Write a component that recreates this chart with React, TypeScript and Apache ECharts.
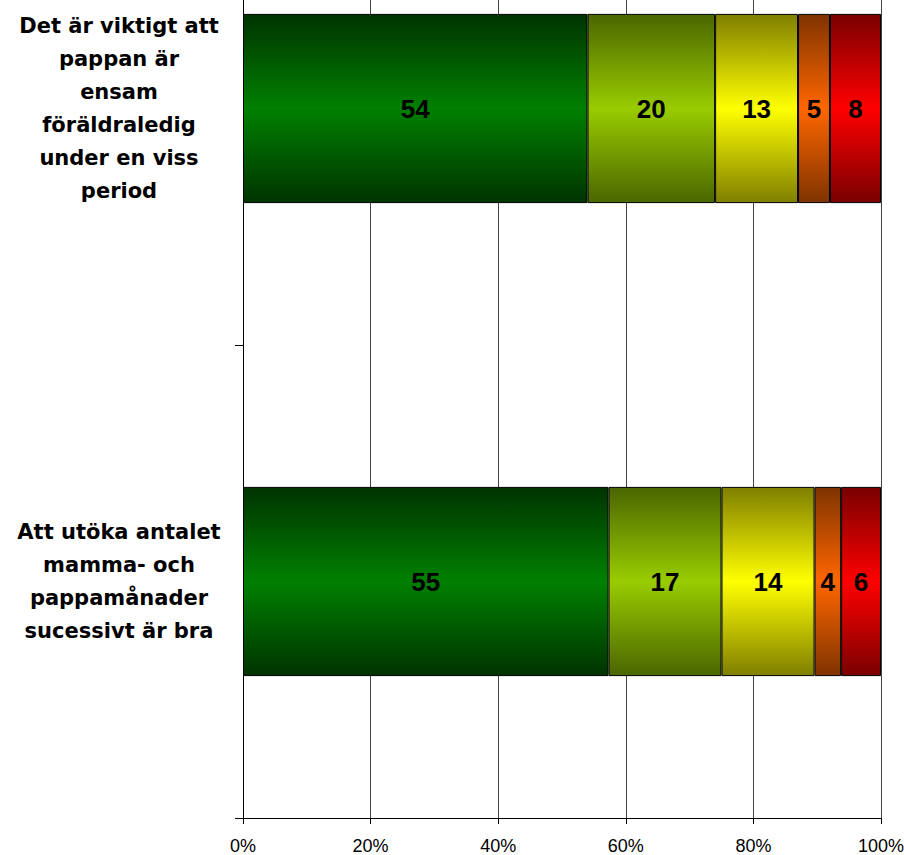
import React, { useEffect, useRef } from "react";
import * as echarts from "echarts";

const categories: string[] = [
  "Det är viktigt att\npappan är\nensam\nföräldraledig\nunder en viss\nperiod",
  "Att utöka antalet\nmamma- och\npappamånader\nsucessivt är bra",
];

const seriesNames: string[] = ["S1", "S2", "S3", "S4", "S5"];
const valuesS1: number[] = [54, 55];
const valuesS2: number[] = [20, 17];
const valuesS3: number[] = [13, 14];
const valuesS4: number[] = [5, 4];
const valuesS5: number[] = [8, 6];
const xTicks: number[] = [0, 20, 40, 60, 80, 100];

const darkColors = ["#003300", "#4a6600", "#7f7f00", "#7f3300", "#7a0000"];
const brightColors = ["#008000", "#99cc00", "#ffff00", "#ff6600", "#ff0000"];

const OFFSET = 128;

export default function App() {
  const ref = useRef<HTMLDivElement>(null);
  useEffect(() => {
    if (!ref.current) return;
    const chart = echarts.init(ref.current, undefined, { renderer: "svg" });
    const all = [valuesS1, valuesS2, valuesS3, valuesS4, valuesS5];
    const totals = categories.map((_, i) => all.reduce((s, arr) => s + arr[i], 0));
    const series = all.map((arr, k) => ({
      name: seriesNames[k],
      type: "bar",
      stack: "total",
      barWidth: "40%",
      data: arr.map((v, i) => ({ value: (v / totals[i]) * 100, raw: v })),
      itemStyle: {
        borderColor: "#000",
        borderWidth: 1,
        color: new echarts.graphic.LinearGradient(0, 0, 0, 1, [
          { offset: 0, color: darkColors[k] },
          { offset: 0.5, color: brightColors[k] },
          { offset: 1, color: darkColors[k] },
        ]),
      },
      label: {
        show: true,
        position: "inside",
        formatter: (p: any) => String(p.data.raw),
        color: "#000",
        fontSize: 26,
        fontWeight: "bold",
        fontFamily: "Liberation Sans, Arial, sans-serif",
      },
    }));
    chart.setOption({
      animation: false,
      backgroundColor: "#fff",
      grid: {
        left: 243,
        right: 23,
        top: 0,
        bottom: 37,
        containLabel: false,
        outerBoundsMode: "none",
      },
      xAxis: {
        type: "value",
        min: xTicks[0],
        max: xTicks[xTicks.length - 1],
        interval: 20,
        axisLine: { show: true, lineStyle: { color: "#000", width: 1 } },
        axisTick: { show: true, length: 6, lineStyle: { color: "#000" } },
        axisLabel: {
          formatter: "{value}%",
          color: "#000",
          fontSize: 18,
          lineHeight: 18,
          fontFamily: "Liberation Sans, Arial, sans-serif",
          margin: 19,
        },
        splitLine: { show: true, lineStyle: { color: "#444", width: 1 } },
      },
      yAxis: {
        type: "category",
        inverse: true,
        data: categories,
        axisLine: { show: true, lineStyle: { color: "#000", width: 1 } },
        axisTick: { show: true, length: 8, lineStyle: { color: "#000" } },
        axisLabel: {
          color: "#000",
          fontSize: 21,
          fontWeight: "bold",
          fontFamily: "DejaVu Sans, sans-serif",
          lineHeight: 33,
          align: "center",
          margin: 124,
        },
        splitLine: { show: false },
      },
      series,
    });
    return () => chart.dispose();
  }, []);
  return (
    <div
      style={{
        position: "fixed",
        left: 0,
        top: 0,
        width: 904,
        height: 855,
        overflow: "hidden",
        background: "#fff",
      }}
    >
      <div
        ref={ref}
        style={{ position: "absolute", left: 0, top: -OFFSET, width: 904, height: 855 + OFFSET }}
      />
    </div>
  );
}
